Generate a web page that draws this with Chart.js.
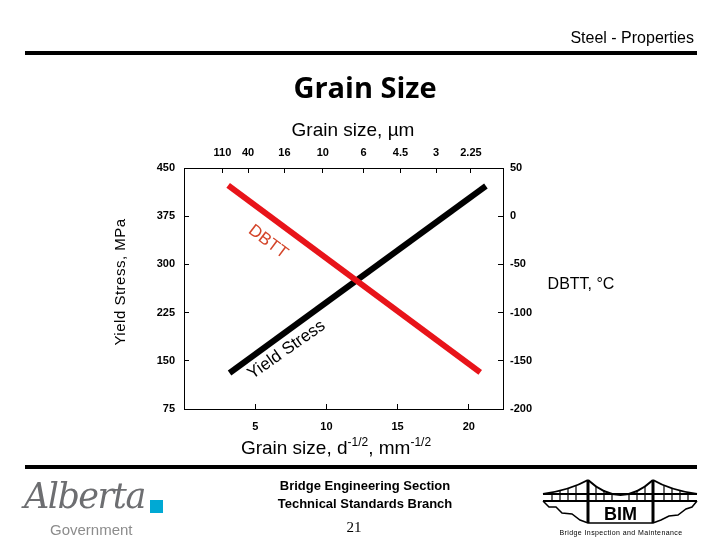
<!DOCTYPE html>
<html>
<head>
<meta charset="utf-8">
<script src="https://cdn.jsdelivr.net/npm/chart.js@4.4.0/dist/chart.umd.min.js"></script>
<style>
  body { margin: 0; background: #fff; }
  #page { position: relative; width: 720px; height: 540px; overflow: hidden; font-family: Arial, "Liberation Sans", sans-serif; }
  #chart { position: absolute; left: 0; top: 0; }
  .txt { position: absolute; white-space: nowrap; color: #000; transform: translate(-50%, -50%); }
  .bar { position: absolute; left: 25px; width: 672px; height: 4px; background: #000; }
</style>
</head>
<body>
<div id="page">
  <canvas id="chart" width="720" height="540"></canvas>

  <div style="position:absolute; right:26px; top:29px; font-size:16px;">Steel - Properties</div>
  <div class="bar" style="top:51px;"></div>
  <div class="txt" style="left:365px; top:86px; font-family:'Open Sans'; font-weight:bold; font-size:29px;">Grain Size</div>

  <div class="txt" style="left:353px; top:130px; font-size:19px;">Grain size, µm</div>
  <div style="position:absolute; left:50px; top:273px; width:140px; height:18px; line-height:18px; text-align:center; font-size:15px; letter-spacing:0.5px; color:#000; white-space:nowrap; transform:rotate(-90deg);">Yield Stress, MPa</div>
  <div class="txt" style="left:581px; top:284px; font-size:16px;">DBTT, °C</div>
  <div class="txt" style="left:336px; top:447px; font-size:19px;">Grain size, d<sup style="font-size:12px;">-1/2</sup>, mm<sup style="font-size:12px;">-1/2</sup></div>

  <div class="bar" style="top:465px;"></div>
  <div class="txt" style="left:365px; top:485px; font-size:13px; font-weight:bold;">Bridge Engineering Section</div>
  <div class="txt" style="left:365px; top:503px; font-size:13px; font-weight:bold;">Technical Standards Branch</div>
  <div class="txt" style="left:354px; top:527px; font-size:15px; font-family:'Liberation Serif', serif;">21</div>

  <!-- Alberta logo -->
  <div style="position:absolute; left:24px; top:476px; font-family:'DejaVu Serif', serif; font-style:italic; font-size:35px; color:#6d6e71; letter-spacing:-1.5px;">Alberta</div>
  <div style="position:absolute; left:150px; top:500px; width:13px; height:13px; background:#00a9d4;"></div>
  <div style="position:absolute; left:50px; top:521px; font-size:15px; color:#8c8c8c;">Government</div>

  <!-- BIM logo -->
  <svg style="position:absolute; left:540px; top:476px;" width="165" height="64" viewBox="0 0 165 64">
    <g fill="none" stroke="#000">
      <line x1="3" y1="18" x2="157" y2="18" stroke-width="2"/>
      <line x1="3" y1="25" x2="157" y2="25" stroke-width="2"/>
      <line x1="48" y1="4" x2="48" y2="47" stroke-width="3"/>
      <line x1="113" y1="4" x2="113" y2="47" stroke-width="3"/>
      <path d="M3,18 Q30,14 48,4" stroke-width="2"/>
      <path d="M48,4 Q80.5,34 113,4" stroke-width="2"/>
      <path d="M113,4 Q130,14 157,18" stroke-width="2"/>
      <g stroke-width="1.2">
        <line x1="12" y1="16" x2="12" y2="25"/><line x1="20" y1="14" x2="20" y2="25"/>
        <line x1="28" y1="12" x2="28" y2="25"/><line x1="36" y1="10" x2="36" y2="25"/>
        <line x1="56" y1="10" x2="56" y2="25"/><line x1="64" y1="14" x2="64" y2="25"/>
        <line x1="72" y1="17" x2="72" y2="25"/><line x1="89" y1="17" x2="89" y2="25"/>
        <line x1="97" y1="14" x2="97" y2="25"/><line x1="105" y1="10" x2="105" y2="25"/>
        <line x1="124" y1="10" x2="124" y2="25"/><line x1="132" y1="12" x2="132" y2="25"/>
        <line x1="140" y1="14" x2="140" y2="25"/><line x1="148" y1="16" x2="148" y2="25"/>
      </g>
      <path d="M3,25 L9,31 L16,31 L22,37 L32,38 L40,44 L48,47 L113,47 L121,44 L129,40 L138,39 L146,33 L152,31 L157,25" stroke-width="1.5"/>
    </g>
    <text x="80.5" y="43.5" text-anchor="middle" font-family="Arial" font-weight="bold" font-size="18">BIM</text>
    <text x="81" y="59" text-anchor="middle" font-family="Arial" font-size="7" letter-spacing="0.4">Bridge Inspection and Maintenance</text>
  </svg>
</div>

<script>
// axis ticks
const xTicks = [5, 10, 15, 20];
const topTickPos = [2.7, 4.5, 7.05, 9.75, 12.6, 15.2, 17.7, 20.15];
const topTickLabels = ["110", "40", "16", "10", "6", "4.5", "3", "2.25"];
const stressTicks = [75, 150, 225, 300, 375, 450];
const dbttTicks = [-200, -150, -100, -50, 0, 50];

// series: grain size d^-1/2 (mm^-1/2)
const yieldX = [3.2, 21.2];
const yieldStress = [131, 422];
const dbttX = [3.1, 20.8];
const dbttValues = [32, -162];

const tickFont = { family: "Arial", size: 11, weight: "bold" };

function toPoints(xs, ys) {
  return xs.map((x, i) => ({ x: x, y: ys[i] }));
}

function fixedTicks(list) {
  return (scale) => {
    scale.ticks = list.map((v) => ({ value: v }));
  };
}

function axisBase() {
  return {
    type: "linear",
    grid: { drawOnChartArea: false, drawTicks: true, tickLength: -5, color: "#000", lineWidth: 1 },
    border: { display: true, color: "#000", width: 1 },
  };
}

// rotated text labels along the lines
const lineLabels = {
  id: "lineLabels",
  afterDatasetsDraw(chart) {
    const { ctx, scales } = chart;
    const draw = (text, xv, yv, deg, color) => {
      ctx.save();
      ctx.translate(scales.x.getPixelForValue(xv), scales.y.getPixelForValue(yv));
      ctx.rotate((deg * Math.PI) / 180);
      ctx.font = "17px Arial";
      ctx.fillStyle = color;
      ctx.textAlign = "center";
      ctx.textBaseline = "middle";
      ctx.fillText(text, 0, 0);
      ctx.restore();
    };
    draw("DBTT", 5.9, 335, 37, "#d4452a");
    draw("Yield Stress", 7.2, 167, -35, "#000");
  },
};

new Chart(document.getElementById("chart"), {
  type: "line",
  data: {
    datasets: [
      {
        label: "DBTT",
        data: toPoints(dbttX, dbttValues),
        yAxisID: "y2",
        borderColor: "#e8141a",
        borderWidth: 6,
        pointRadius: 0,
      },
      {
        label: "Yield Stress",
        data: toPoints(yieldX, yieldStress),
        yAxisID: "y",
        borderColor: "#000",
        borderWidth: 6,
        pointRadius: 0,
      },
    ],
  },
  options: {
    responsive: false,
    animation: false,
    layout: { padding: 0 },
    plugins: { legend: { display: false }, tooltip: { enabled: false } },
    scales: {
      x: Object.assign(axisBase(), {
        position: "bottom",
        min: 0,
        max: 22.4,
        afterBuildTicks: fixedTicks(xTicks),
        afterFit: (s) => { s.height = 131; },
        ticks: { font: tickFont, color: "#000", padding: 16, autoSkip: false, maxRotation: 0 },
      }),
      xTop: Object.assign(axisBase(), {
        position: "top",
        min: 0,
        max: 22.4,
        afterBuildTicks: fixedTicks(topTickPos),
        afterFit: (s) => { s.height = 168; },
        ticks: {
          font: tickFont, color: "#000", padding: 13, autoSkip: false, maxRotation: 0,
          callback: (v, i) => topTickLabels[i],
        },
      }),
      y: Object.assign(axisBase(), {
        position: "left",
        min: 75,
        max: 450,
        afterBuildTicks: fixedTicks(stressTicks),
        afterFit: (s) => { s.width = 184; },
        ticks: { font: tickFont, color: "#000", padding: 14 },
      }),
      y2: Object.assign(axisBase(), {
        position: "right",
        min: -200,
        max: 50,
        afterBuildTicks: fixedTicks(dbttTicks),
        afterFit: (s) => { s.width = 217; },
        ticks: { font: tickFont, color: "#000", padding: 12 },
      }),
    },
  },
  plugins: [lineLabels],
});
</script>
</body>
</html>
